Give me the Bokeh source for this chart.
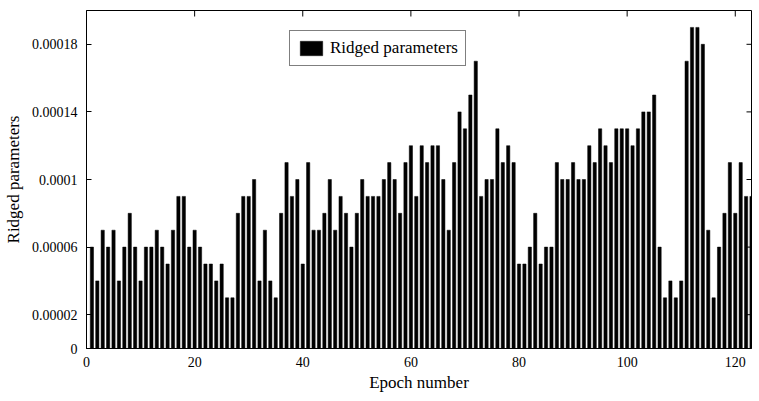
import math
from bokeh.plotting import figure
from bokeh.models import FixedTicker, Legend, LegendItem, Range1d
from bokeh.embed import file_html
from bokeh.resources import INLINE

# ---- data ----
epochs = list(range(1, 124))
ridged = [
    6e-5, 4e-5, 7e-5, 6e-5, 7e-5, 4e-5, 6e-5, 8e-5, 6e-5, 4e-5,
    6e-5, 6e-5, 7e-5, 6e-5, 5e-5, 7e-5, 9e-5, 9e-5, 6e-5, 7e-5,
    6e-5, 5e-5, 5e-5, 4e-5, 5e-5, 3e-5, 3e-5, 8e-5, 9e-5, 9e-5,
    10e-5, 4e-5, 7e-5, 4e-5, 3e-5, 8e-5, 11e-5, 9e-5, 10e-5, 5e-5,
    11e-5, 7e-5, 7e-5, 8e-5, 10e-5, 7e-5, 9e-5, 8e-5, 6e-5, 8e-5,
    10e-5, 9e-5, 9e-5, 9e-5, 10e-5, 11e-5, 10e-5, 8e-5, 11e-5, 12e-5,
    9e-5, 12e-5, 11e-5, 12e-5, 12e-5, 10e-5, 7e-5, 11e-5, 14e-5, 13e-5,
    15e-5, 17e-5, 9e-5, 10e-5, 10e-5, 13e-5, 11e-5, 12e-5, 11e-5, 5e-5,
    5e-5, 6e-5, 8e-5, 5e-5, 6e-5, 6e-5, 11e-5, 10e-5, 10e-5, 11e-5,
    10e-5, 10e-5, 12e-5, 11e-5, 13e-5, 12e-5, 11e-5, 13e-5, 13e-5, 13e-5,
    12e-5, 13e-5, 14e-5, 14e-5, 15e-5, 6e-5, 3e-5, 4e-5, 3e-5, 4e-5,
    17e-5, 19e-5, 19e-5, 18e-5, 7e-5, 3e-5, 6e-5, 8e-5, 11e-5, 8e-5,
    11e-5, 9e-5, 9e-5,
]
x_ticks = [0, 20, 40, 60, 80, 100, 120]
y_ticks = [0, 0.00002, 0.00006, 0.0001, 0.00014, 0.00018]
y_tick_labels = ["0", "0.00002", "0.00006", "0.0001", "0.00014", "0.00018"]
series_name = "Ridged parameters"
x_title = "Epoch number"
y_title = "Ridged parameters"

X_MIN, X_MAX = 0, 123
Y_MIN, Y_MAX = 0, 0.0002
FONT = "Liberation Serif"

p = figure(width=759, height=401,
           x_range=Range1d(X_MIN, X_MAX), y_range=Range1d(Y_MIN, Y_MAX),
           output_backend="svg", toolbar_location=None,
           min_border_left=86, min_border_right=8,
           min_border_top=10, min_border_bottom=53)

p.xgrid.visible = False
p.ygrid.visible = False
p.outline_line_color = "black"
p.outline_line_width = 1
p.background_fill_color = "white"
p.border_fill_color = "white"

r = p.vbar(x=epochs, top=ridged, width=0.6, fill_color="black",
           line_color="black", line_width=0.5)

# inward tick marks on the top and right frame edges (box on)
p.ray(x=x_ticks, y=[Y_MAX] * len(x_ticks), length=6, length_units="screen",
      angle=-math.pi / 2, line_color="black", line_width=1)
p.ray(x=[X_MAX] * len(y_ticks), y=y_ticks, length=5, length_units="screen",
      angle=math.pi, line_color="black", line_width=1)

overrides = {t: s for t, s in zip(y_ticks, y_tick_labels)}

def style(ax, tick_len):
    ax.major_tick_in = tick_len
    ax.major_tick_out = 0
    ax.minor_tick_in = 0
    ax.minor_tick_out = 0
    ax.axis_line_color = "black"
    ax.major_tick_line_color = "black"
    ax.major_label_text_font = FONT
    ax.major_label_text_font_size = "14px"
    ax.major_label_text_color = "black"
    ax.axis_label_text_font = FONT
    ax.axis_label_text_font_size = "17px"
    ax.axis_label_text_font_style = "normal"
    ax.axis_label_text_color = "black"

xa = p.xaxis[0]
xa.ticker = FixedTicker(ticks=x_ticks)
style(xa, 6)
xa.major_label_standoff = 8
xa.axis_label = x_title
xa.axis_label_standoff = 3

ya = p.yaxis[0]
ya.ticker = FixedTicker(ticks=y_ticks)
ya.major_label_overrides = overrides
style(ya, 5)
ya.major_label_standoff = 9
ya.axis_label = y_title
ya.axis_label_standoff = 6

legend = Legend(items=[LegendItem(label=series_name, renderers=[r])],
                location=(203, 282), orientation="vertical",
                border_line_color="black", border_line_width=1,
                background_fill_color="white", background_fill_alpha=1,
                padding=7, spacing=0, margin=0,
                glyph_width=28, glyph_height=18, label_standoff=5,
                label_text_font=FONT, label_text_font_size="17px",
                label_text_color="black")
p.add_layout(legend, "center")

open("out.html", "w").write(file_html(p, INLINE))
